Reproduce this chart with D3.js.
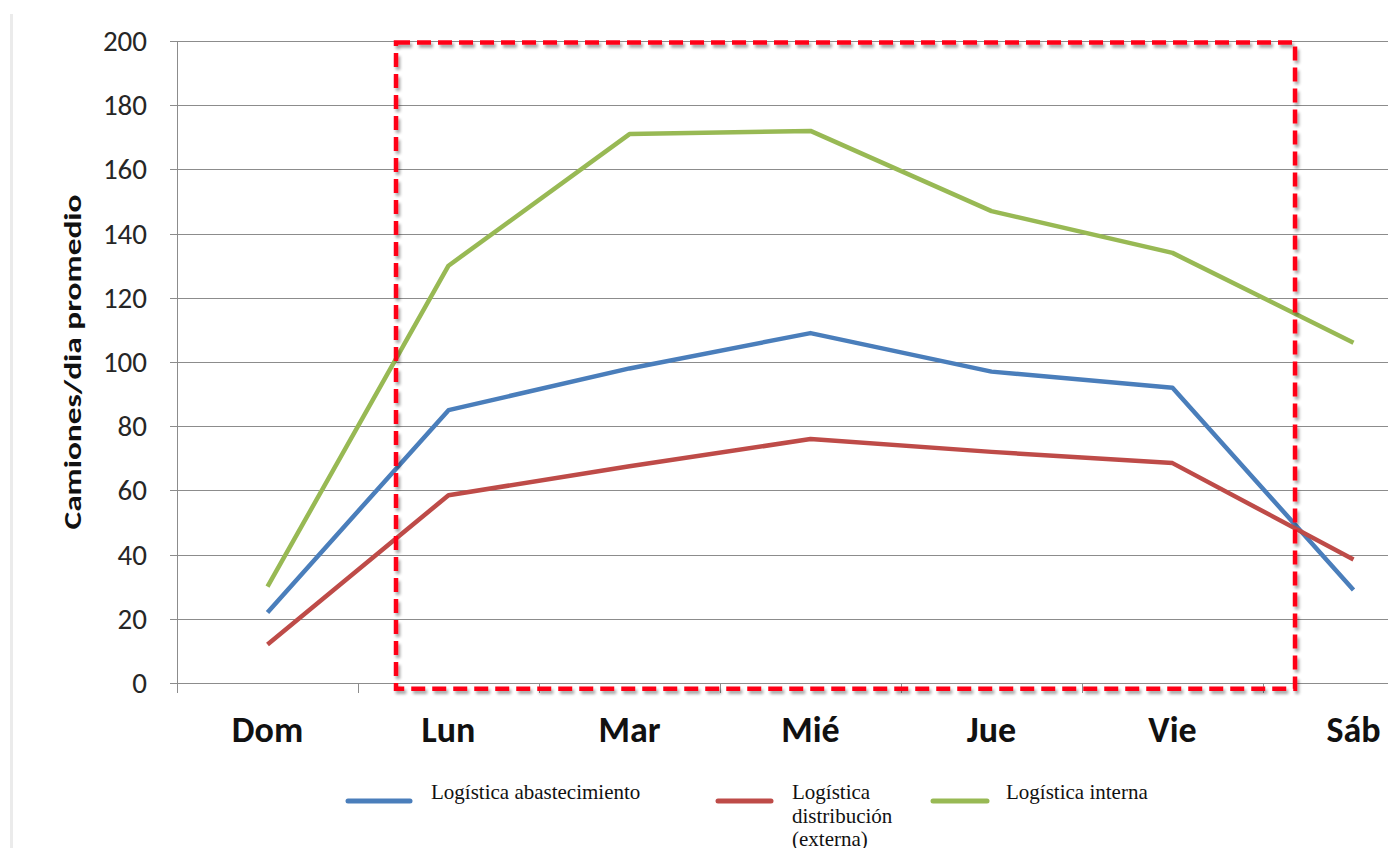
<!DOCTYPE html>
<meta charset="utf-8">
<style>
  body { margin: 0; background: #fff; }
  .ytick text { font: 29px Carlito, Calibri, "Open Sans", sans-serif; fill: #262626; }
  .xlab { font: bold 36px Carlito, Calibri, "Open Sans", sans-serif; fill: #111; }
  .ytitle { font: bold 25px Carlito, Calibri, "Open Sans", sans-serif; fill: #111; }
  .grid line { stroke: #8c8c8c; stroke-width: 1px; }
  .legend text { font: 21px "Liberation Serif", "Times New Roman", serif; fill: #111; }
</style>
<body>
<script src="https://d3js.org/d3.v7.min.js"></script>
<script>
  // chart data
  var days = ["Dom", "Lun", "Mar", "Mié", "Jue", "Vie", "Sáb"];
  var abastecimiento = [22, 85, 98, 109, 97, 92, 29];
  var distribucion = [12, 58.5, 67.5, 76, 72, 68.5, 38.5];
  var interna = [30, 130, 171, 172, 147, 134, 106];
  var yTicks = [0, 20, 40, 60, 80, 100, 120, 140, 160, 180, 200];
  var seriesNames = ["Logística abastecimiento", "Logística distribución (externa)", "Logística interna"];
  var colors = ["#4a7ebb", "#be4b48", "#98b954"];

  var width = 1388, height = 848;
  var margin = {left: 177, top: 41, bottom: 165};

  var svg = d3.select("body").append("svg")
    .attr("width", width)
    .attr("height", height);

  // thin page border on the left
  svg.append("rect")
    .attr("x", 10).attr("y", 14)
    .attr("width", 3).attr("height", height)
    .attr("fill", "#ebebeb");

  var x = d3.scaleBand()
    .domain(days)
    .range([margin.left, margin.left + 181 * days.length]);

  var y = d3.scaleLinear()
    .domain([0, 200])
    .range([height - margin.bottom, margin.top]);

  // horizontal gridlines
  var grid = svg.append("g").attr("class", "grid");
  grid.selectAll("line")
    .data(yTicks)
    .enter().append("line")
    .attr("x1", margin.left - 7)
    .attr("x2", width)
    .attr("y1", d => Math.round(y(d)) + 0.5)
    .attr("y2", d => Math.round(y(d)) + 0.5);

  // y axis line
  svg.append("line")
    .attr("x1", margin.left + 0.5).attr("x2", margin.left + 0.5)
    .attr("y1", y(200)).attr("y2", y(0) + 10)
    .attr("stroke", "#8c8c8c");

  // x tick marks at category boundaries
  svg.append("g").attr("class", "grid")
    .selectAll("line")
    .data(days)
    .enter().append("line")
    .attr("x1", d => Math.round(x(d)) + 0.5)
    .attr("x2", d => Math.round(x(d)) + 0.5)
    .attr("y1", y(0))
    .attr("y2", y(0) + 10);

  // y tick labels
  svg.append("g").attr("class", "ytick")
    .selectAll("text")
    .data(yTicks)
    .enter().append("text")
    .attr("x", margin.left - 30)
    .attr("y", d => y(d) + 10)
    .attr("text-anchor", "end")
    .text(d => d);

  // x labels
  svg.selectAll(".xlab")
    .data(days)
    .enter().append("text")
    .attr("class", "xlab")
    .attr("x", d => x(d) + x.bandwidth() / 2)
    .attr("y", y(0) + 59)
    .attr("text-anchor", "middle")
    .text(d => d);

  svg.append("text")
    .attr("class", "ytitle")
    .attr("transform", "translate(81," + y(100) + ") rotate(-90)")
    .attr("text-anchor", "middle")
    .attr("textLength", 335)
    .attr("lengthAdjust", "spacingAndGlyphs")
    .text("Camiones/dia promedio");

  // lines
  var line = d3.line()
    .x((d, i) => x(days[i]) + x.bandwidth() / 2)
    .y(d => y(d));

  [abastecimiento, distribucion, interna].forEach(function (s, i) {
    svg.append("path")
      .datum(s)
      .attr("fill", "none")
      .attr("stroke", colors[i])
      .attr("stroke-width", 4.5)
      .attr("stroke-linejoin", "round")
      .attr("d", line);
  });

  // red dashed highlight box (Lun - Vie)
  var defs = svg.append("defs");
  var f = defs.append("filter").attr("id", "sh").attr("x", "-5%").attr("y", "-5%").attr("width", "110%").attr("height", "110%");
  f.append("feGaussianBlur").attr("in", "SourceAlpha").attr("stdDeviation", 1.5).attr("result", "b");
  f.append("feOffset").attr("in", "b").attr("dx", 2).attr("dy", 3).attr("result", "o");
  f.append("feComponentTransfer").attr("in", "o").attr("result", "o2")
    .append("feFuncA").attr("type", "linear").attr("slope", 0.35);
  var m = f.append("feMerge");
  m.append("feMergeNode").attr("in", "o2");
  m.append("feMergeNode").attr("in", "SourceGraphic");

  var bx0 = x("Lun") + x.step() * 0.21;
  var bx1 = x("Sáb") + x.step() * 0.177;
  svg.append("rect")
    .attr("x", bx0)
    .attr("y", y(199.5))
    .attr("width", bx1 - bx0)
    .attr("height", y(-1.8) - y(199.5))
    .attr("fill", "none")
    .attr("stroke", "#ff0019")
    .attr("stroke-width", 4.5)
    .attr("stroke-dasharray", "14,7")
    .attr("filter", "url(#sh)");

  // legend
  var legend = svg.append("g").attr("class", "legend");
  var legendItems = [
    {lx: 348, lw: 62, tx: 431, lines: ["Logística abastecimiento"]},
    {lx: 718, lw: 53, tx: 792, lines: ["Logística", "distribución", "(externa)"]},
    {lx: 933, lw: 54, tx: 1006, lines: ["Logística interna"]}
  ];
  legendItems.forEach(function (it, i) {
    legend.append("line")
      .attr("x1", it.lx).attr("x2", it.lx + it.lw)
      .attr("y1", 801).attr("y2", 801)
      .attr("stroke", colors[i])
      .attr("stroke-width", 5)
      .attr("stroke-linecap", "round");
    var t = legend.append("text")
      .attr("x", it.tx)
      .attr("y", 799);
    it.lines.forEach(function (l, j) {
      t.append("tspan").attr("x", it.tx).attr("dy", j ? 23.5 : 0).text(l);
    });
  });
</script>
</body>
